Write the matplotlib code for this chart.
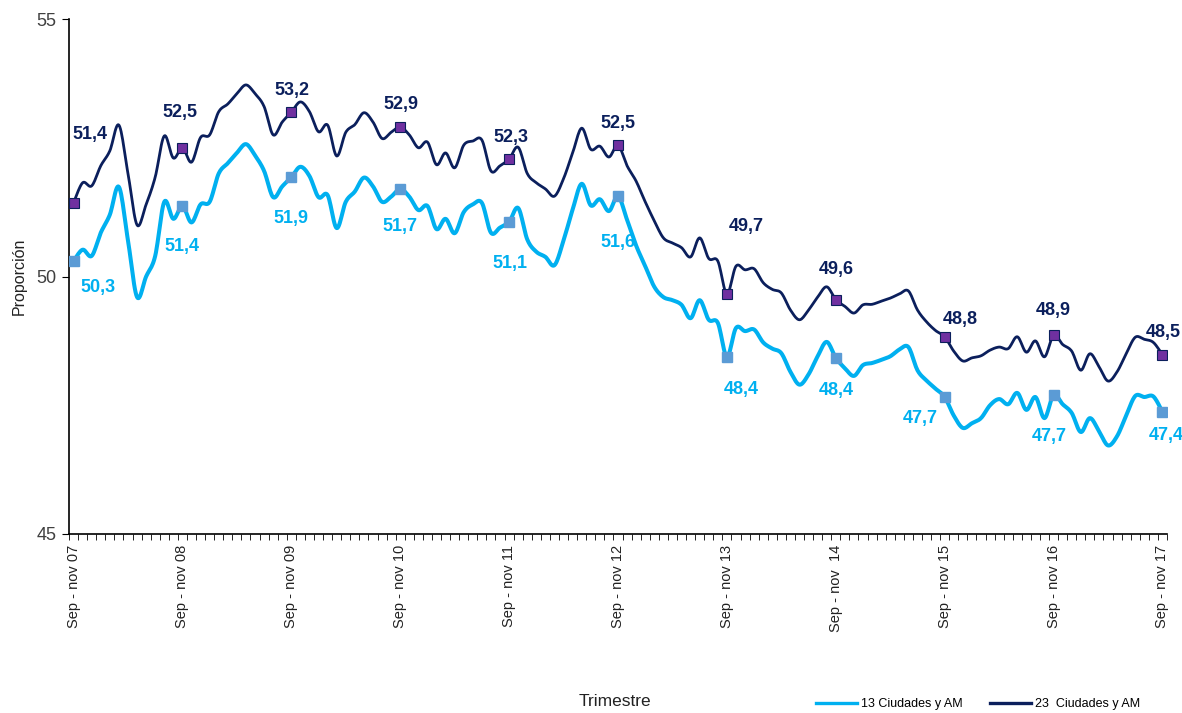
import numpy as np
import matplotlib.pyplot as plt

# trimestres moviles sep-nov 07 ... sep-nov 17 (121 puntos mensuales)
ciudades_13 = [
    50.30, 50.52, 50.40, 50.85, 51.20, 51.74, 50.70, 49.60, 50.00, 50.40,
    51.45, 51.12, 51.37, 51.05, 51.40, 51.45, 52.00, 52.20, 52.40, 52.57,
    52.35, 52.05, 51.54, 51.75, 51.93, 52.13, 51.95, 51.54, 51.58, 50.94,
    51.45, 51.65, 51.92, 51.75, 51.45, 51.55, 51.70, 51.55, 51.29, 51.37,
    50.92, 51.12, 50.84, 51.25, 51.40, 51.43, 50.85, 50.95, 51.06, 51.33,
    50.72, 50.48, 50.38, 50.22, 50.70, 51.30, 51.80, 51.38, 51.50, 51.27,
    51.56, 51.10, 50.60, 50.20, 49.80, 49.60, 49.54, 49.45, 49.19, 49.54,
    49.16, 49.10, 48.44, 49.00, 48.94, 48.97, 48.72, 48.60, 48.51, 48.15,
    47.90, 48.10, 48.45, 48.73, 48.42, 48.22, 48.07, 48.28, 48.32, 48.38,
    48.45, 48.58, 48.63, 48.18, 47.98, 47.82, 47.66, 47.30, 47.06, 47.15,
    47.25, 47.50, 47.62, 47.52, 47.74, 47.41, 47.66, 47.25, 47.70, 47.52,
    47.35, 46.98, 47.25, 47.00, 46.72, 46.90, 47.30, 47.68, 47.66, 47.67,
    47.37,
]
ciudades_23 = [
    51.43, 51.82, 51.76, 52.15, 52.44, 52.94, 52.00, 51.00, 51.40, 51.93,
    52.73, 52.30, 52.50, 52.22, 52.70, 52.75, 53.20, 53.35, 53.55, 53.72,
    53.55, 53.30, 52.75, 53.00, 53.19, 53.39, 53.20, 52.81, 52.94, 52.34,
    52.80, 52.95, 53.18, 53.00, 52.68, 52.80, 52.90, 52.75, 52.50, 52.61,
    52.17, 52.40, 52.11, 52.55, 52.63, 52.65, 52.05, 52.15, 52.28, 52.51,
    52.00, 51.82, 51.70, 51.56, 51.90, 52.40, 52.88, 52.47, 52.53, 52.32,
    52.55, 52.15, 51.85, 51.45, 51.08, 50.75, 50.65, 50.56, 50.38, 50.75,
    50.35, 50.30, 49.66, 50.20, 50.13, 50.15, 49.88, 49.75, 49.68, 49.35,
    49.16, 49.35, 49.60, 49.80, 49.55, 49.42, 49.29, 49.45, 49.46, 49.52,
    49.58, 49.66, 49.72, 49.35, 49.12, 48.95, 48.83, 48.55, 48.36, 48.42,
    48.46, 48.57, 48.63, 48.60, 48.83, 48.53, 48.75, 48.44, 48.86, 48.68,
    48.55, 48.18, 48.50, 48.25, 47.97, 48.15, 48.50, 48.82, 48.78, 48.72,
    48.48,
]
etiquetas_x = ['Sep - nov 07', 'Sep - nov 08', 'Sep - nov 09', 'Sep - nov 10',
               'Sep - nov 11', 'Sep - nov 12', 'Sep - nov 13', 'Sep - nov  14',
               'Sep - nov 15', 'Sep - nov 16', 'Sep - nov 17']
valores_13 = ['50,3', '51,4', '51,9', '51,7', '51,1', '51,6',
              '48,4', '48,4', '47,7', '47,7', '47,4']
valores_23 = ['51,4', '52,5', '53,2', '52,9', '52,3', '52,5',
              '49,7', '49,6', '48,8', '48,9', '48,5']

# desplazamientos de las etiquetas (pixeles)
off_13 = [(24, -26), (0, -41), (0, -41), (0, -38), (1, -42), (0, -46),
          (14, -33), (0, -33), (-24, -21), (-4, -42), (4, -24)]
off_23 = [(16, 68), (-2, 35), (1, 22), (1, 23), (2, 22), (0, 22),
          (19, 68), (0, 30), (16, 17), (0, 25), (1, 22)]

c_claro = '#00B0F0'
c_oscuro = '#0B1F5C'


def suavizar(x, y, pasos=12):
    # curva catmull-rom solo para el trazo (como la linea suavizada de excel)
    xp = np.concatenate([[x[0]], x, [x[-1]]])
    yp = np.concatenate([[y[0]], y, [y[-1]]])
    t = np.linspace(0, 1, pasos, endpoint=False)
    xs, ys = [], []
    for i in range(1, len(xp) - 2):
        for arr, out in ((xp, xs), (yp, ys)):
            p0, p1, p2, p3 = arr[i - 1], arr[i], arr[i + 1], arr[i + 2]
            out.append(0.5 * (2 * p1 + (-p0 + p2) * t
                              + (2 * p0 - 5 * p1 + 4 * p2 - p3) * t ** 2
                              + (-p0 + 3 * p1 - 3 * p2 + p3) * t ** 3))
    xs.append([x[-1]])
    ys.append([y[-1]])
    return np.concatenate(xs), np.concatenate(ys)


plt.rcParams['font.family'] = ['Liberation Sans', 'DejaVu Sans']

fig = plt.figure(figsize=(11.82, 7.13), dpi=100)
ax = fig.add_axes([69 / 1182, 1 - 534 / 713, 1098 / 1182, 515 / 713])

x = np.arange(len(ciudades_13), dtype=float)
anual = np.arange(0, len(ciudades_13), 12)
y13 = np.array(ciudades_13)
y23 = np.array(ciudades_23)

ax.plot(*suavizar(x, y13), color=c_claro, lw=2.9, solid_joinstyle='round',
        solid_capstyle='round', zorder=2)
ax.plot(*suavizar(x, y23), color=c_oscuro, lw=2.0, solid_joinstyle='round',
        solid_capstyle='round', zorder=3)
ax.plot(anual, y13[anual], ls='none', marker='s', ms=6.5, mfc='#5B9BD5',
        mec='#5B9BD5', zorder=4)
ax.plot(anual, y23[anual], ls='none', marker='s', ms=6.5, mfc='#7030A0',
        mec=c_oscuro, mew=0.8, zorder=4)

for i, k in enumerate(anual):
    ax.annotate(valores_13[i], (k, y13[k]), xytext=off_13[i],
                textcoords='offset pixels', ha='center', va='center',
                fontsize=13, fontweight='bold', color=c_claro)
    ax.annotate(valores_23[i], (k, y23[k]), xytext=off_23[i],
                textcoords='offset pixels', ha='center', va='center',
                fontsize=13, fontweight='bold', color=c_oscuro)

ax.set_xlim(-0.5, len(x) - 0.5)
ax.set_ylim(45, 55)
ax.set_yticks([45, 50, 55])
ax.tick_params(axis='y', direction='out', length=5, labelsize=13,
               labelcolor='#404040', pad=4)
ax.set_xticks(anual)
ax.set_xticklabels(etiquetas_x, rotation=90, fontsize=10.5, color='#222222')
ax.set_xticks(np.arange(-0.5, len(x)), minor=True)
ax.tick_params(axis='x', which='major', length=0, pad=8)
ax.tick_params(axis='x', which='minor', direction='out', length=4)

for s in ['top', 'right']:
    ax.spines[s].set_visible(False)
ax.spines['left'].set_linewidth(1.2)
ax.spines['bottom'].set_linewidth(1.2)

ax.set_ylabel('Proporción', fontsize=11.5, color='#222222', labelpad=7)
fig.text(615 / 1182, 1 - 702 / 713, 'Trimestre', ha='center', va='center',
         fontsize=12.5, color='#222222')

h1, = ax.plot([], [], color=c_claro, lw=2.4)
h2, = ax.plot([], [], color=c_oscuro, lw=2.4)
fig.legend([h1, h2], ['13 Ciudades y AM', '23  Ciudades y AM'], ncol=2,
           loc='center', bbox_to_anchor=(978 / 1182, 1 - 704 / 713),
           frameon=False, fontsize=9, handlelength=3.3, handletextpad=0.3,
           columnspacing=2.2)

fig.savefig('out.png', dpi=100)
